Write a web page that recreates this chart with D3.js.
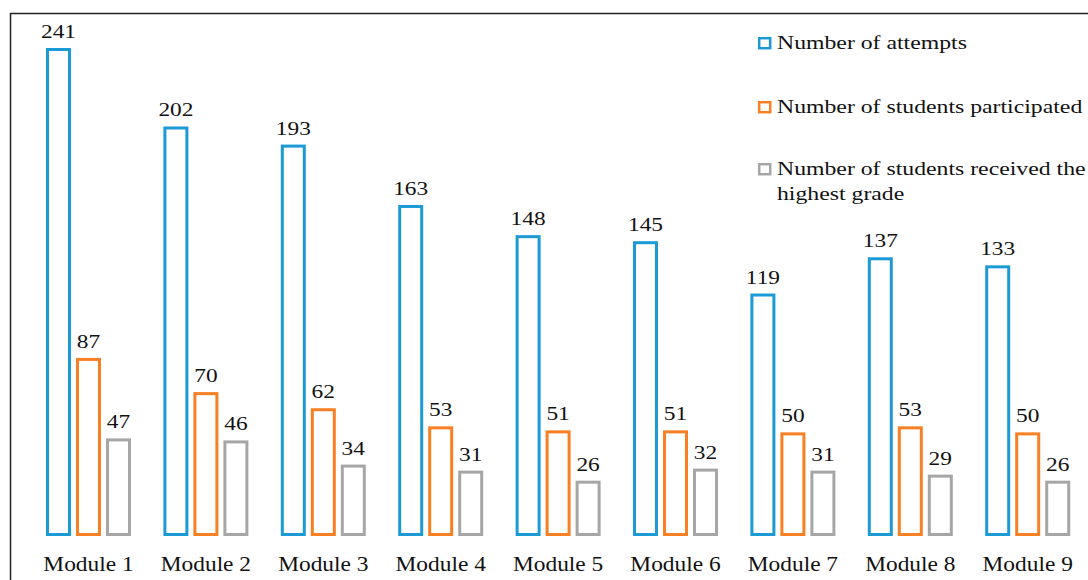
<!DOCTYPE html>
<html>
<head>
<meta charset="utf-8">
<script src="https://cdn.jsdelivr.net/npm/d3@7"></script>
<style>
  body { margin: 0; background: #fff; }
  text { font-family: "Liberation Serif", "Times New Roman", serif; fill: #111; }
</style>
</head>
<body>
<script>
var width = 1088,
    height = 580;

// data
var modules = ["Module 1", "Module 2", "Module 3", "Module 4", "Module 5",
               "Module 6", "Module 7", "Module 8", "Module 9"];
var seriesNames = ["Number of attempts", "Number of students participated",
                   "Number of students received the highest grade"];
var attempts = [241, 202, 193, 163, 148, 145, 119, 137, 133];
var participated = [87, 70, 62, 53, 51, 51, 50, 53, 50];
var highestGrade = [47, 46, 34, 31, 26, 32, 31, 29, 26];

var colors = ["#1b9ad6", "#f77f24", "#a6a6a6"];
var stretch = "scale(1.23,1)";   // the original text is set a bit wide

var svg = d3.select("body").append("svg")
    .attr("width", width)
    .attr("height", height);

// outer frame (only left & top edges visible)
svg.append("path")
    .attr("d", "M10.5,580V13.5H1088")
    .attr("fill", "none")
    .attr("stroke", "#222")
    .attr("stroke-width", 1.5);

var x0 = d3.scaleBand()
    .domain(modules)
    .range([46, 1070.2])
    .paddingInner(0.276);

var x1 = d3.scaleBand()
    .domain([0, 1, 2])
    .range([0, x0.bandwidth()])
    .paddingInner(0.1667);

var y = d3.scaleLinear()
    .domain([0, 250])
    .range([534.5, 534.5 - 250 * 2.0124]);

var rows = modules.map(function(m, i) {
    return { module: m, values: [attempts[i], participated[i], highestGrade[i]] };
});

var groups = svg.selectAll(".group")
    .data(rows)
    .enter().append("g")
    .attr("class", "group")
    .attr("transform", function(d) { return "translate(" + x0(d.module) + ",0)"; });

groups.selectAll("rect")
    .data(function(d) { return d.values; })
    .enter().append("rect")
    .attr("x", function(d, i) { return x1(i) + 1.5; })
    .attr("y", function(d) { return y(d); })
    .attr("width", x1.bandwidth() - 3)
    .attr("height", function(d) { return y(0) - y(d); })
    .attr("fill", "none")
    .attr("stroke", function(d, i) { return colors[i]; })
    .attr("stroke-width", 3);

groups.selectAll(".val")
    .data(function(d) { return d.values; })
    .enter().append("text")
    .attr("class", "val")
    .attr("transform", function(d, i) {
        return "translate(" + (x1(i) + x1.bandwidth() / 2) + "," + (y(d) - 11.5) + ")" + stretch;
    })
    .attr("text-anchor", "middle")
    .style("font-size", "19px")
    .text(function(d) { return d; });

// category labels
var xAxis = svg.append("g")
    .attr("transform", "translate(0,553)")
    .call(d3.axisBottom(x0).tickSize(0).tickPadding(0));
xAxis.select(".domain").remove();
xAxis.selectAll("text")
    .attr("dy", "0.9em")
    .attr("transform", "scale(1.17,1)")
    .style("font-size", "20px")
    .style("font-family", "Liberation Serif, serif")
    .attr("fill", "#111");

// legend
var legendY = [43, 107, 169];
var legend = svg.selectAll(".legend")
    .data(seriesNames)
    .enter().append("g")
    .attr("class", "legend")
    .attr("transform", function(d, i) { return "translate(758," + legendY[i] + ")"; });

legend.append("rect")
    .attr("x", 1.2)
    .attr("y", -4.8)
    .attr("width", 11)
    .attr("height", 10)
    .attr("fill", "none")
    .attr("stroke", function(d, i) { return colors[i]; })
    .attr("stroke-width", 2.5);

legend.append("text")
    .attr("transform", "translate(19,5.5)" + "scale(1.25,1)")
    .style("font-size", "19px")
    .each(function(d, i) {
        var t = d3.select(this);
        if (i === 2) {
            t.append("tspan").attr("x", 0).text("Number of students received the");
            t.append("tspan").attr("x", 0).attr("dy", 26).text("highest grade");
        } else {
            t.text(d);
        }
    });
</script>
</body>
</html>
